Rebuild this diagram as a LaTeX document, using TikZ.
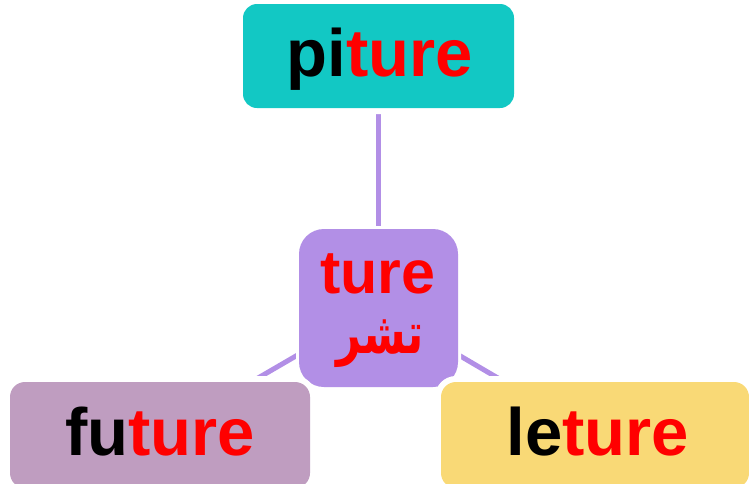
\documentclass[tikz,border=0pt]{standalone}
\usepackage{fontspec}
\setmainfont{Liberation Sans}
\newfontfamily\arabicfont[Script=Arabic]{DejaVu Sans}
\TeXXeTstate=1
\usetikzlibrary{backgrounds}
\definecolor{tealbox}{HTML}{12C8C4}
\definecolor{purplebox}{HTML}{B28FE6}
\definecolor{mauvebox}{HTML}{BF9DC0}
\definecolor{yellowbox}{HTML}{F9D976}
\definecolor{redtext}{HTML}{FF0000}
\begin{document}
\begin{tikzpicture}[x=1pt,y=-1pt,
  box/.style={rectangle, inner sep=0pt, outer sep=0pt},
  outlined/.style={preaction={draw=white,line width=#1}},
  bigtext/.style={anchor=base, inner sep=0pt, font=\fontsize{67}{70}\selectfont\bfseries},
  midtext/.style={anchor=base, inner sep=0pt, font=\fontsize{61}{64}\selectfont\bfseries, text=redtext},
  conn/.style={draw=purplebox, line width=5pt}
]
\useasboundingbox (0,0) rectangle (749,483);
% boxes
\node[box, outlined=12pt, fill=tealbox, rounded corners=14pt, minimum width=271pt, minimum height=104pt] (t) at (378.5,56) {};
\node[box, outlined=6pt, fill=purplebox, rounded corners=25pt, minimum width=159pt, minimum height=158pt] (c) at (378.5,308) {};
\node[box, outlined=12pt, fill=mauvebox, rounded corners=15pt, minimum width=300pt, minimum height=106pt] (l) at (160,435) {};
\node[box, outlined=12pt, fill=yellowbox, rounded corners=15pt, minimum width=308pt, minimum height=106pt] (r) at (595,435) {};
% connectors
\begin{scope}[on background layer]
\draw[conn] (c.center) -- (t.center);
\draw[conn] (c.center) -- (l.center);
\draw[conn] (c.center) -- (r.center);
\end{scope}
% texts
\node[bigtext] (tt) at (380,76) {pi\textcolor{redtext}{ture}};
\node[bigtext] (lt) at (160,455) {fu\textcolor{redtext}{ture}};
\node[bigtext] (rt) at (598,455) {le\textcolor{redtext}{ture}};
\node[midtext] (ct) at (378,293) {ture};
\node[anchor=base, inner sep=0pt, text=redtext, font=\fontsize{48}{52}\selectfont\bfseries\arabicfont] (ca) at (380,353) {\scalebox{0.9}[1.2]{\beginR تشر\endR}};
\end{tikzpicture}
\end{document}
